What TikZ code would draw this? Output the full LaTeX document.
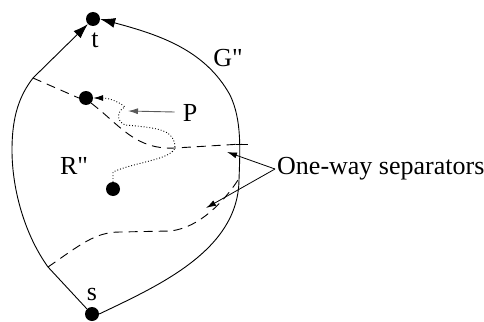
\documentclass[tikz,border=0pt]{standalone}
\usepackage{fontspec}
\setmainfont{Liberation Serif}[Ligatures=TeXOff]
\usetikzlibrary{arrows.meta}
\begin{document}
\begin{tikzpicture}[x=1pt,y=-1pt,
  dotnode/.style={circle,fill=black,inner sep=0pt,minimum size=14pt},
  lbl/.style={font=\fontsize{26}{28}\selectfont,inner sep=0pt},
  bigtip/.style={-{Latex[length=15pt,width=10pt]}},
  smalltip/.style={-{Latex[length=10pt,width=6pt]}},
  sep/.style={dashed,dash pattern=on 9pt off 6pt,line width=0.9pt},
  path/.style={dotted,line width=0.9pt}]
\useasboundingbox (0,0) rectangle (484,321);
\node[dotnode] (t) at (93,19) {};
\node[dotnode] (s) at (92,314) {};
\node[dotnode] (a) at (86,98) {};
\node[dotnode] (b) at (113,189) {};
\node[lbl] (tl) at (95,40) {t};
\node[lbl] (sl) at (92,294) {s};
\node[lbl] (G) at (228,58) {G"};
\node[lbl] (R) at (74,166) {R"};
\node[lbl] (P) at (190,113) {P};
\node[lbl,anchor=west] (O) at (277,169) {One-way separators};
\coordinate (L1) at (33,78);
\coordinate (L2) at (48,267);
\coordinate (R1) at (242,144);
\coordinate (R2) at (238,180);
% boundary
\draw[line width=0.9pt,bigtip] (s.north west) -- (L2)
  .. controls (25,235) and (12,190) .. (12,150)
  .. controls (12,115) and (20,95) .. (L1)
  -- (t.south west);
\draw[line width=0.9pt,bigtip] (s.east) .. controls (160,285) and (238,250) .. (239,180)
  .. controls (240,150) and (242,120) .. (230,95)
  .. controls (205,50) and (160,35) .. (t.east);
% separators
\draw[sep] (L1) -- (a.west);
\draw[sep] (a.south east) .. controls (120,125) and (135,150) .. (175,148) -- (R1);
\draw[line width=0.9pt] (236,144) -- (248,144);
\draw[sep] (L2) .. controls (80,245) and (95,232) .. (120,232)
  -- (170,231) .. controls (200,228) and (225,200) .. (R2);
% path P
\draw[path,smalltip] (b.north) -- (113,172) .. controls (135,162) and (170,160) .. (175,148)
  .. controls (175,130) and (160,128) .. (125,125)
  .. controls (115,120) and (118,110) .. (125,107)
  .. controls (118,101) and (108,98) .. (a.east);
\draw[smalltip,gray!70!black,line width=0.9pt] (P.west) ++(-8,-1) coordinate (pa) -- (128,111);
% one-way arrows
\coordinate (ow) at (275,169);
\draw[smalltip,line width=0.8pt] (ow) -- (227,152);
\draw[smalltip,line width=0.8pt] (ow) -- (206,208);
\end{tikzpicture}
\end{document}
